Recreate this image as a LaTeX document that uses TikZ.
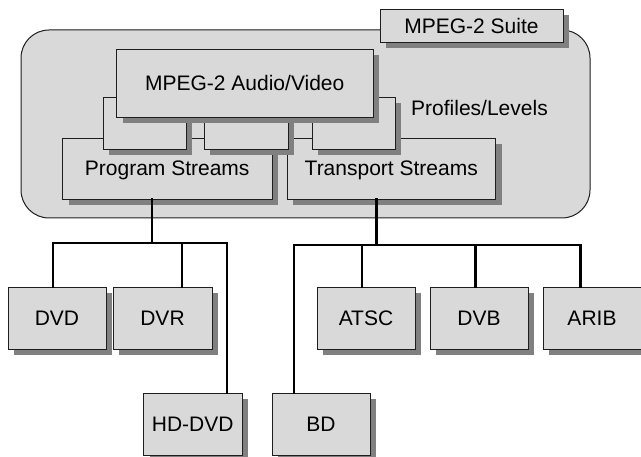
\documentclass[tikz,border=0pt]{standalone}
\usepackage{fontspec}
\setmainfont{Liberation Sans}
\usetikzlibrary{shadows}

\definecolor{boxfill}{RGB}{217,217,217}
\definecolor{shadowgray}{RGB}{128,128,128}
\definecolor{edge}{RGB}{30,30,30}

\tikzset{
  box/.style={draw=edge, line width=0.9pt, fill=boxfill, inner sep=0pt,
    font=\fontsize{21}{25}\selectfont, text depth=0pt,
    general shadow={fill=shadowgray, shadow xshift=6pt, shadow yshift=-6pt}},
  wire/.style={line width=2.6pt, line join=miter, line cap=rect, black},
  lbl/.style={font=\fontsize{21}{25}\selectfont, inner sep=0pt, text depth=0pt}
}

\begin{document}
\begin{tikzpicture}[x=1pt, y=-1pt]
  \useasboundingbox (0,0) rectangle (641,457);

  % suite container
  \node[draw=edge, line width=1pt, fill=boxfill, rounded corners=28pt,
        minimum width=569pt, minimum height=188pt, inner sep=0pt]
        (suitebg) at (305.5,124) {};

  % bus junctions
  \coordinate (lbus) at (152,243);
  \coordinate (rbus) at (376.5,245);

  % stream boxes and profiles/levels stack
  \node[box, minimum width=209.5pt, minimum height=61pt] (ps) at (167.25,168.5) {Program Streams};
  \node[box, minimum width=208.5pt, minimum height=61pt] (ts) at (391.25,168.5) {Transport Streams};
  \node[box, minimum width=83pt, minimum height=52pt] (pl1) at (144.5,123) {};
  \node[box, minimum width=84pt, minimum height=52pt] (pl2) at (246,123) {};
  \node[box, minimum width=83pt, minimum height=52pt] (pl3) at (353.5,123) {};
  \node[box, minimum width=256.5pt, minimum height=68pt] (av) at (244.75,83) {MPEG-2 Audio/Video};
  \node[lbl] (prof) at (479.5,108) {Profiles/Levels};

  \node[box, minimum width=183pt, minimum height=33pt] (suite) at (471.5,25.5) {MPEG-2 Suite};

  % application boxes
  \node[box, minimum width=98pt, minimum height=62pt] (dvd) at (57,318) {DVD};
  \node[box, minimum width=99pt, minimum height=62pt] (dvr) at (162.5,318) {DVR};
  \node[box, minimum width=98.5pt, minimum height=62pt] (hddvd) at (192.75,424) {HD-DVD};
  \node[box, minimum width=98pt, minimum height=62pt] (bd) at (321,424) {BD};
  \node[box, minimum width=98pt, minimum height=62pt] (atsc) at (366,318) {ATSC};
  \node[box, minimum width=98pt, minimum height=62pt] (dvb) at (479,318) {DVB};
  \node[box, minimum width=98pt, minimum height=62pt] (arib) at (592,318) {ARIB};

  % program stream tree
  \draw[wire] (lbus |- ps.south) -- (lbus);
  \draw[wire] ([xshift=-4pt]dvd.north) |- ([xshift=34.25pt]hddvd.north |- lbus)
              -- ([xshift=34.25pt]hddvd.north);
  \draw[wire] ([xshift=19.5pt]dvr.north) -- ([xshift=19.5pt]dvr.north |- lbus);

  % transport stream tree
  \draw[wire] (rbus |- ts.south) -- (rbus);
  \draw[wire] ([xshift=-27pt]bd.north) |- ([xshift=-11.5pt]arib.north |- rbus)
              -- ([xshift=-11.5pt]arib.north);
  \draw[wire] ([xshift=-4pt]atsc.north) -- ([xshift=-4pt]atsc.north |- rbus);
  \draw[wire] ([xshift=-3.5pt]dvb.north) -- ([xshift=-3.5pt]dvb.north |- rbus);
\end{tikzpicture}
\end{document}
